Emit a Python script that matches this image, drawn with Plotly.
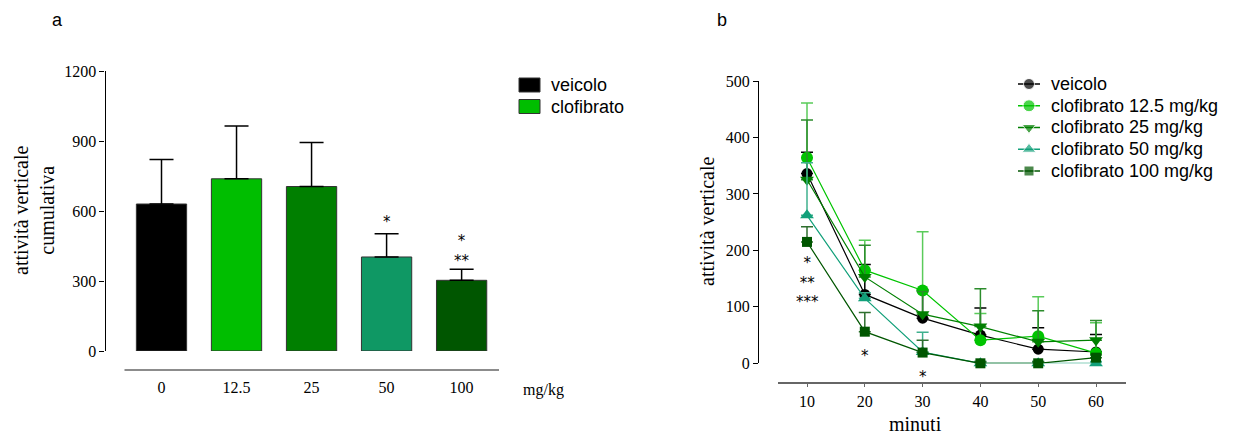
import plotly.graph_objects as go

W, H = 1237, 434

# ---------------- data: panel a ----------------
dose_labels = ["0", "12.5", "25", "50", "100"]
cum_mean = [630, 738, 705, 403, 303]
cum_sem = [191, 226, 189, 100, 47]
bar_colors = ["#000000", "#00BE00", "#007F00", "#0F9864", "#005600"]
legend_a_labels = ["veicolo", "clofibrato"]
legend_a_colors = ["#000000", "#00BE00"]

# ---------------- data: panel b ----------------
minutes = [10, 20, 30, 40, 50, 60]
series_names = ["veicolo", "clofibrato 12.5 mg/kg", "clofibrato 25 mg/kg",
                "clofibrato 50 mg/kg", "clofibrato 100 mg/kg"]
veicolo = [336, 122, 80, 50, 25, 20]
veicolo_err = [38, 53, 50, 48, 38, 31]
clo12 = [364, 165, 129, 41, 48, 18]
clo12_err = [97, 53, 104, 47, 70, 54]
clo25 = [325, 153, 87, 65, 38, 41]
clo25_err = [106, 56, 40, 67, 55, 35]
clo50 = [262, 115, 20, 0, 0, 0]
clo50_err = [93, 10, 35, 3, 3, 3]
clo100 = [215, 56, 19, 0, 0, 10]
clo100_err = [27, 34, 22, 3, 3, 5]
line_colors = ["#000000", "#00C400", "#007F00", "#12A07A", "#005600"]
err_colors = ["#000000", "#5ACB5A", "#2C8C2C", "#3FB08E", "#2F6F2F"]
symbols = ["circle", "circle", "triangle-down", "triangle-up", "square"]
msizes = [11, 12, 12, 12, 10]

def px(x):
    return x / W

def py(y):
    return 1 - y / H

serif = "Liberation Serif, Times New Roman, serif"
sans = "Liberation Sans, Arial, sans-serif"
star_font = "DejaVu Sans, sans-serif"

fig = go.Figure()

# panel a bars
fig.add_trace(go.Bar(
    x=list(range(len(cum_mean))), y=cum_mean, width=0.67,
    marker=dict(color=bar_colors, line=dict(color="#333333", width=1)),
    error_y=dict(type="data", array=cum_sem, arrayminus=[0] * len(cum_sem),
                 symmetric=False, color="#000000", thickness=1.5, width=12),
    xaxis="x", yaxis="y", showlegend=False, cliponaxis=False,
))

# panel b lines
all_series = [veicolo, clo12, clo25, clo50, clo100]
all_err = [veicolo_err, clo12_err, clo25_err, clo50_err, clo100_err]
for name, vals, errs, lc, ec, sym, ms in zip(series_names, all_series, all_err,
                                             line_colors, err_colors, symbols, msizes):
    fig.add_trace(go.Scatter(
        x=minutes, y=vals, name=name, mode="lines+markers",
        line=dict(color=lc, width=1.2),
        marker=dict(symbol=sym, size=ms, color=lc),
        error_y=dict(type="data", array=errs, arrayminus=[0] * len(errs),
                     symmetric=False, color=ec, thickness=1.5, width=6),
        xaxis="x2", yaxis="y2", cliponaxis=False, showlegend=False,
    ))

# panel b legend (pixel overlay axis x3/y3)
for k, (name, lc, sym, ms) in enumerate(zip(series_names, line_colors, symbols, msizes)):
    yc = 84 + 21.75 * k
    fig.add_trace(go.Scatter(
        x=[1018, 1029, 1040], y=[yc, yc, yc], mode="lines+markers",
        line=dict(color=lc, width=1.5),
        marker=dict(symbol=sym, size=[0, ms, 0], color=lc),
        xaxis="x3", yaxis="y3", showlegend=False, hoverinfo="skip", cliponaxis=False,
    ))
    fig.add_annotation(x=px(1049), y=py(yc), xref="paper", yref="paper", text=name,
                       showarrow=False, xanchor="left", yanchor="middle",
                       font=dict(family=sans, size=18, color="#000"))

def star(xv, xref, ytop, text):
    # ytop: pixel position of the top asterisk row
    fig.add_annotation(x=xv, y=py(ytop - 6), xref=xref, yref="paper", text=text,
                       showarrow=False, xanchor="center", yanchor="top",
                       font=dict(family=star_font, size=15, color="#000"),
                       align="center", borderpad=0)

# significance markers
star(3, "x", 218, "*")
star(4, "x", 237, "*<br>**")
star(10, "x2", 259, "*<br>**<br>***")
star(20, "x2", 352, "*")
star(30, "x2", 373, "*")

# panel a custom legend
for k, (lab, col) in enumerate(zip(legend_a_labels, legend_a_colors)):
    yc = 85 + k * 21.5
    fig.add_shape(type="rect", xref="paper", yref="paper",
                  x0=px(519), x1=px(540), y0=py(yc - 7), y1=py(yc + 7),
                  fillcolor=col, line=dict(color="#333333", width=1))
    fig.add_annotation(x=px(549), y=py(yc), xref="paper", yref="paper", text=lab,
                       showarrow=False, xanchor="left", yanchor="middle",
                       font=dict(family=sans, size=18, color="#000"))

# panel a separate x axis line
fig.add_shape(type="line", xref="paper", yref="paper", x0=px(124.5), x1=px(499),
              y0=py(370), y1=py(370), line=dict(color="#666666", width=1.5))

def label(x, y, text, family, size, angle=0):
    fig.add_annotation(x=px(x), y=py(y), xref="paper", yref="paper", text=text,
                       textangle=angle, showarrow=False, xanchor="center",
                       yanchor="middle", font=dict(family=family, size=size, color="#000"))

label(543, 390, "mg/kg", serif, 16)
label(57, 20, "a", sans, 18)
label(722, 20, "b", sans, 18)
label(34, 211, "attività verticale<br>cumulativa", serif, 20, -90)
label(707, 222, "attività verticale", serif, 20, -90)
label(915, 424, "minuti", serif, 20)

tickfont = dict(family=serif, size=16, color="#000")
fig.update_layout(
    template="none",
    width=W, height=H, margin=dict(l=0, r=0, t=0, b=0, autoexpand=False),
    paper_bgcolor="white", plot_bgcolor="rgba(0,0,0,0)",
    xaxis=dict(domain=[px(124.5), px(499)], anchor="free", position=py(370),
               range=[(124.5 - 161.5) / 75.03, (499 - 161.5) / 75.03],
               tickmode="array", tickvals=list(range(len(dose_labels))),
               ticktext=dose_labels, ticks="", showline=False, showgrid=False,
               zeroline=False, tickfont=tickfont, ticklabelstandoff=6,
               automargin=False),
    yaxis=dict(domain=[py(351), py(71)], anchor="free", position=px(104.5),
               range=[0, 1200], tickvals=[0, 300, 600, 900, 1200], ticks="outside",
               ticklen=5, tickcolor="#000", tickwidth=1, showline=True, linecolor="#000",
               linewidth=1.2, showgrid=False, zeroline=False, tickfont=tickfont,
               automargin=False),
    xaxis2=dict(domain=[px(778), px(1126)], anchor="free", position=py(382.7),
                range=[10 + (778 - 807) / 5.78, 10 + (1126 - 807) / 5.78],
                tickvals=minutes, ticks="outside", ticklen=4, tickcolor="#666",
                tickwidth=1, showline=True, linecolor="#666666", linewidth=1.5,
                showgrid=False, zeroline=False, tickfont=tickfont, automargin=False),
    yaxis2=dict(domain=[py(363.3), py(81)], anchor="free", position=px(758),
                range=[0, 500], tickvals=[0, 100, 200, 300, 400, 500], ticks="outside",
                ticklen=5, tickcolor="#000", tickwidth=1, showline=True, linecolor="#000",
                linewidth=1.2, showgrid=False, zeroline=False, tickfont=tickfont,
                automargin=False),
    xaxis3=dict(domain=[0, 1], anchor="y3", range=[0, W], visible=False,
                automargin=False, fixedrange=True),
    yaxis3=dict(domain=[0, 1], anchor="x3", range=[H, 0], visible=False,
                automargin=False, fixedrange=True),
    showlegend=False,
)

fig.write_html("out.html")
